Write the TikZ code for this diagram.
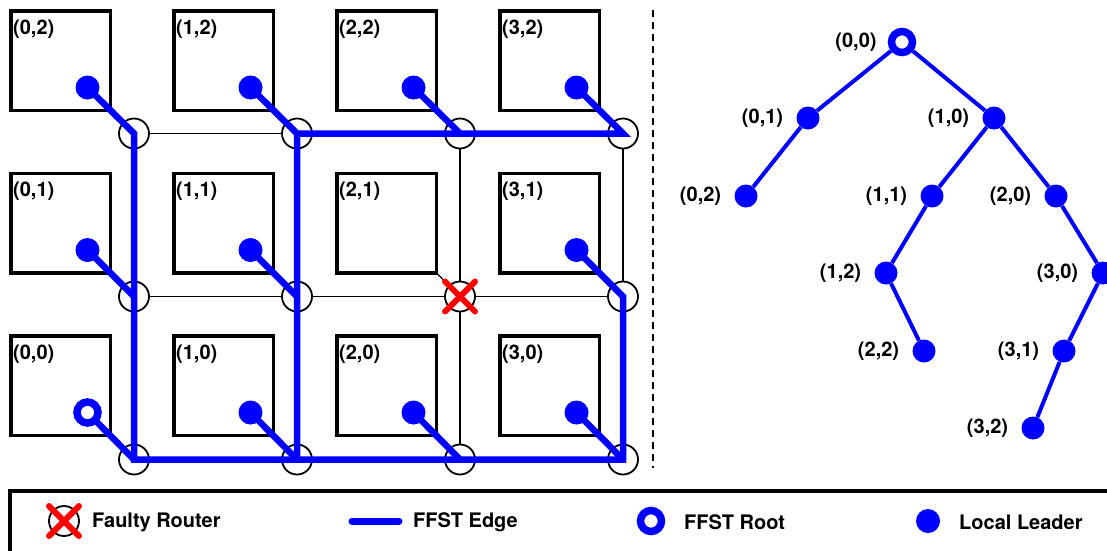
\documentclass[tikz,border=0pt]{standalone}
\usepackage{fontspec}
\setmainfont{TeX Gyre Heros}
\usetikzlibrary{calc}
\begin{document}
\begin{tikzpicture}[x=1pt,y=-1pt,
  every node/.style={font=\bfseries\fontsize{20}{23}\selectfont},
  tile/.style={draw=black, line width=3.5pt, minimum size=99.5pt, inner sep=0pt, fill=white},
  router/.style={circle, draw=black, line width=1.8pt, fill=white, minimum size=30pt, inner sep=0pt},
  meshline/.style={draw=black, line width=1.8pt},
  leader/.style={circle, fill=blue, minimum size=24pt, inner sep=0pt},
  rootring/.style={circle, draw=blue, line width=7.5pt, fill=white, minimum size=21pt, inner sep=0pt},
  ffst/.style={draw=blue, line width=6.5pt, line join=miter},
  tnode/.style={circle, fill=blue, minimum size=23pt, inner sep=0pt},
  troot/.style={rootring},
  tlbl/.style={inner sep=0pt, xshift=-13pt},
  trlbl/.style={inner sep=0pt, xshift=-11pt},
  tedge/.style={draw=blue, line width=4pt},
  faulty/.style={draw=red, line width=6pt, line cap=round},
  divider/.style={draw=black, line width=1.5pt, dash pattern=on 7pt off 5pt},
  txt/.style={anchor=west, inner sep=0pt}
]
\useasboundingbox (0,0) rectangle (1107,550);
\clip (0,0) rectangle (1107,550);

% routers
\foreach \i in {0,...,3} \foreach \j in {0,1,2} {
  \node[router] (r\i\j) at ({134+163*\i},{459.5-163*\j}) {};
}
% mesh links
\foreach \j in {0,1,2} {
  \draw[meshline] (r0\j) -- (r1\j) -- (r2\j) -- (r3\j);
}
\foreach \i in {0,...,3} {
  \draw[meshline] (r\i0) -- (r\i1) -- (r\i2);
}
% tiles
\foreach \i in {0,...,3} \foreach \j in {0,1,2} {
  \node[tile] (b\i\j) at ({60.5+163*\i},{385.5-162.5*\j}) {};
  \node[txt] (l\i\j) at ($(b\i\j.north west)+(4,20)$) {(\i,\j)};
  \coordinate (d\i\j) at ({87.5+163*\i},{412.5-162.5*\j});
}
\draw[meshline, line width=1.2pt] (b21.south east) -- (r21);

% FFST edges
\draw[ffst] (d02) -- (r02.center) -- (r00.center) -- (r30.center) -- (r31.center) -- (d31);
\draw[ffst] (d12) -- (r12.center) -- (r10.center);
\draw[ffst] (r12.center) -- (r32.center) -- (d32);
\foreach \k in {01,00,11,10,20,22,30} {
  \draw[ffst] (d\k) -- (r\k.center);
}
% local leaders
\foreach \k in {01,02,10,11,12,20,22,30,31,32} {
  \node[leader] (ll\k) at (d\k) {};
}
\node[rootring] (ll00) at (d00) {};

% faulty router
\draw[faulty] ($(r21)+(-15,-15)$) -- ($(r21)+(15,15)$);
\draw[faulty] ($(r21)+(-15,15)$) -- ($(r21)+(15,-15)$);

% divider
\coordinate (dtop) at (653,10);
\coordinate (dbot) at (653,468);
\draw[divider] (dtop) -- (dbot);

% tree
\node[troot, label={[trlbl]left:(0,0)}] (t00) at (902,42) {};
\node[tnode, label={[tlbl]left:(0,1)}] (t01) at (808,118) {};
\node[tnode, label={[tlbl]left:(1,0)}] (t10) at (994,118) {};
\node[tnode, label={[tlbl]left:(0,2)}] (t02) at (746,196) {};
\node[tnode, label={[tlbl]left:(1,1)}] (t11) at (932,196) {};
\node[tnode, label={[tlbl]left:(2,0)}] (t20) at (1056,196) {};
\node[tnode, label={[tlbl]left:(1,2)}] (t12) at (886,273) {};
\node[tnode, label={[tlbl]left:(3,0)}] (t30) at (1103,273) {};
\node[tnode, label={[tlbl]left:(2,2)}] (t22) at (924,351) {};
\node[tnode, label={[tlbl]left:(3,1)}] (t31) at (1064,351) {};
\node[tnode, label={[tlbl]left:(3,2)}] (t32) at (1033,428) {};
\draw[tedge] (t00) -- (t01);
\draw[tedge] (t00) -- (t10);
\draw[tedge] (t01) -- (t02);
\draw[tedge] (t10) -- (t11);
\draw[tedge] (t10) -- (t20);
\draw[tedge] (t11) -- (t12);
\draw[tedge] (t12) -- (t22);
\draw[tedge] (t20) -- (t30);
\draw[tedge] (t30) -- (t31);
\draw[tedge] (t31) -- (t32);

% legend
\draw[line width=4pt] (10,491) rectangle (1140,600);
\node[router] (lgf) at (64,521) {};
\draw[faulty] ($(lgf)+(-15,-15)$) -- ($(lgf)+(15,15)$);
\draw[faulty] ($(lgf)+(-15,15)$) -- ($(lgf)+(15,-15)$);
\node[txt] (lgft) at (92,522) {Faulty Router};
\coordinate (lge1) at (352,521);
\coordinate (lge2) at (399,521);
\draw[ffst, line width=7pt, line cap=round] (lge1) -- (lge2);
\node[txt] (lget) at (413,522) {FFST Edge};
\node[rootring] (lgr) at (651,521) {};
\node[txt] (lgrt) at (684,522) {FFST Root};
\node[leader] (lgl) at (928,521) {};
\node[txt] (lglt) at (959,522) {Local Leader};
\end{tikzpicture}
\end{document}
